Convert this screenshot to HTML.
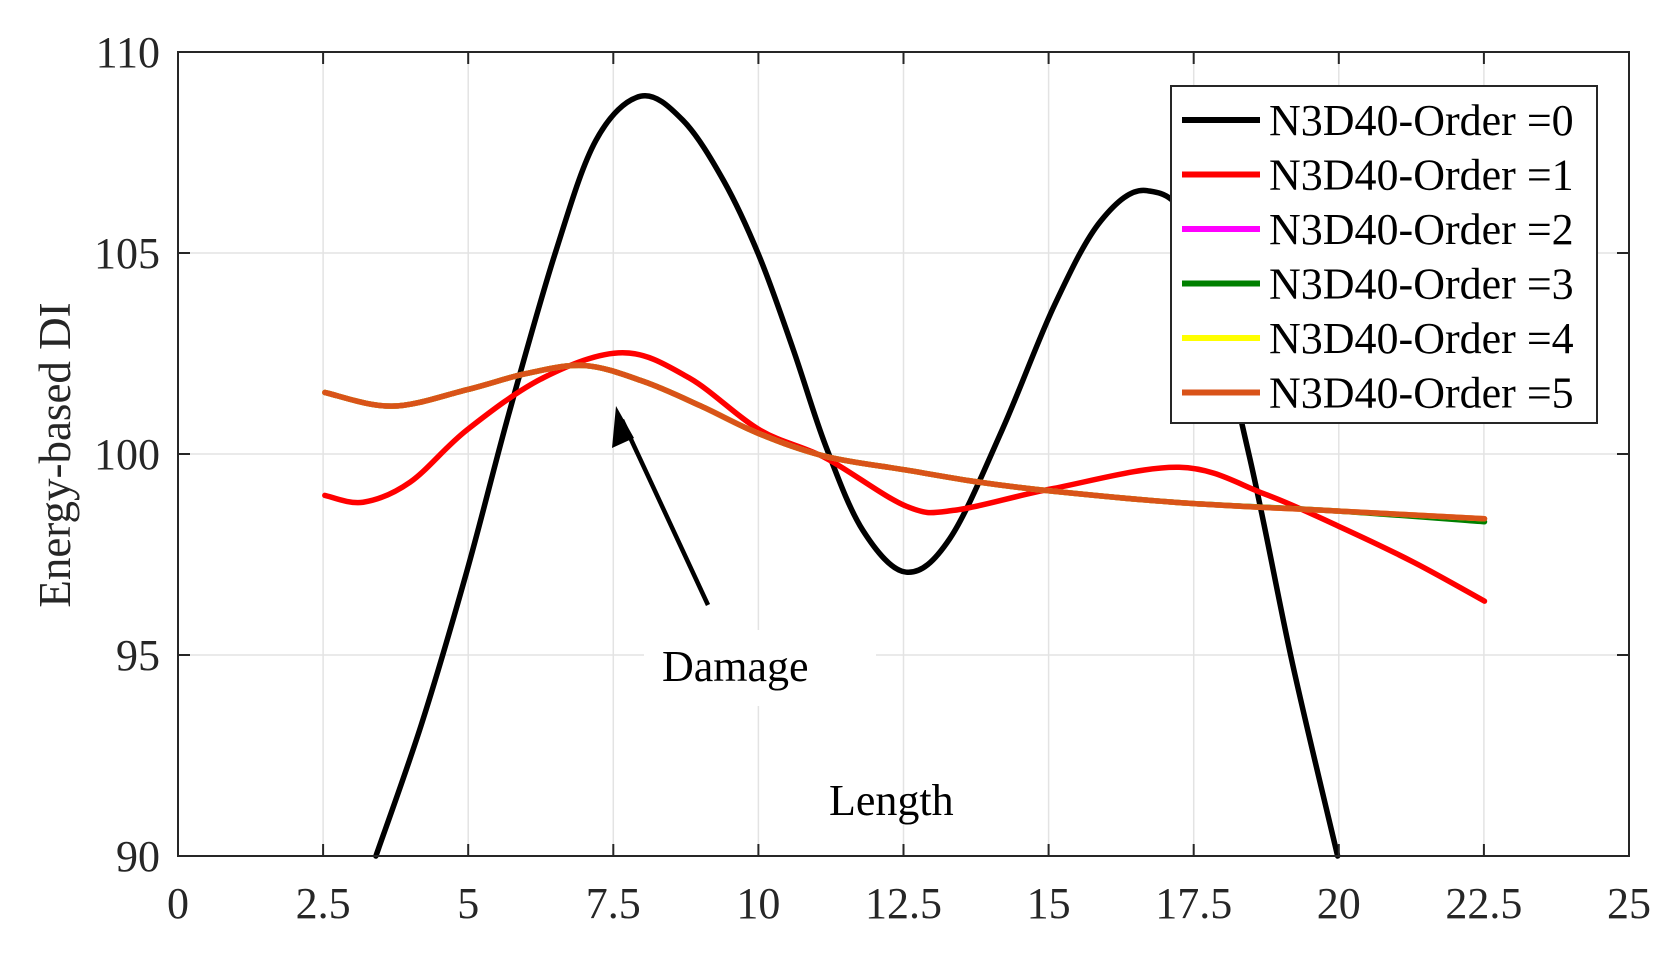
<!DOCTYPE html>
<html><head><meta charset="utf-8"><style>
html,body{margin:0;padding:0;background:#fff;}
svg{display:block;font-family:"Liberation Serif",serif;}
</style></head><body>
<svg id="s" width="1680" height="958" viewBox="0 0 1680 958" xmlns="http://www.w3.org/2000/svg">
<rect width="1680" height="958" fill="#fff"/>
<g id="grid" stroke="#e3e3e3" stroke-width="1.5"></g>
<g id="curves" fill="none" stroke-linejoin="round" stroke-linecap="round"></g>
<rect x="644" y="630" width="232" height="76" fill="#fff"/>
<text x="662" y="681" font-size="44">Damage</text>
<text x="829" y="815" font-size="44">Length</text>
<g stroke="#000" stroke-width="4.5" fill="#000">
<line x1="708" y1="605" x2="622" y2="420"/>
<polygon points="616,406 612,448 634,438" stroke="none"/>
</g>
<rect x="178" y="52" width="1451" height="804" fill="none" stroke="#262626" stroke-width="2"/>
<g id="ticks" stroke="#262626" stroke-width="2"></g>
<g id="labels" font-size="44" fill="#262626"></g>
<text transform="translate(70,455) rotate(-90)" text-anchor="middle" font-size="45" fill="#262626">Energy-based DI</text>
<rect x="1171" y="86" width="426" height="337" fill="#fff" stroke="#262626" stroke-width="2"/>
<g id="legend" font-size="44"></g>
</svg>
<script>
var L=178,R=1629,T=52,B=856;
function X(x){return L+(x/25)*(R-L);} function Y(y){return T+(110-y)/20*(B-T);}
var ns="http://www.w3.org/2000/svg";
function el(p,t,a,txt){var e=document.createElementNS(ns,t);for(var k in a)e.setAttribute(k,a[k]);if(txt!==undefined)e.textContent=txt;document.getElementById(p).appendChild(e);return e;}
for(var i=1;i<10;i++){var x=X(i*2.5);el("grid","line",{x1:x,y1:T,x2:x,y2:B});el("ticks","line",{x1:x,y1:B,x2:x,y2:B-12});el("ticks","line",{x1:x,y1:T,x2:x,y2:T+12});}
for(var j=0;j<=10;j++){var v=j*2.5;el("labels","text",{x:X(v),y:918,"text-anchor":"middle"},String(v));}
[95,100,105].forEach(function(v){var y=Y(v);el("grid","line",{x1:L,y1:y,x2:R,y2:y});el("ticks","line",{x1:L,y1:y,x2:L+12,y2:y});el("ticks","line",{x1:R,y1:y,x2:R-12,y2:y});});
[90,95,100,105,110].forEach(function(v){el("labels","text",{x:160,y:Y(v)+15,"text-anchor":"end"},String(v));});
function path(pts){var p=pts.map(function(a){return [X(a[0]),Y(a[1])];});var d="M"+p[0][0]+","+p[0][1];
for(var i=0;i<p.length-1;i++){var p0=p[i-1]||p[i],p1=p[i],p2=p[i+1],p3=p[i+2]||p2;
d+=" C"+(p1[0]+(p2[0]-p0[0])/6)+","+(p1[1]+(p2[1]-p0[1])/6)+" "+(p2[0]-(p3[0]-p1[0])/6)+","+(p2[1]-(p3[1]-p1[1])/6)+" "+p2[0]+","+p2[1];}return d;}
var blk=[[3.41,90],[4.2,93.3],[4.98,97.1],[5.7,101],[6.5,105.0],[7.2,107.8],[7.97,108.9],[8.7,108.3],[9.4,106.8],[10.02,104.9],[10.6,102.6],[11.16,100.2],[11.8,98.1],[12.55,97.06],[13.3,97.9],[14.2,100.6],[15.1,103.7],[15.9,105.8],[16.7,106.55],[17.5,105.4],[18.45,100],[19.2,94.8],[19.98,90]];
var red=[[2.53,98.97],[3.19,98.8],[4.0,99.3],[4.98,100.6],[6.3,101.9],[7.66,102.52],[8.8,101.9],[10.02,100.6],[11.16,99.9],[12.55,98.7],[13.38,98.6],[15.04,99.13],[17.25,99.67],[18.73,99.0],[20.0,98.2],[21.3,97.3],[22.51,96.34]];
var org=[[2.53,101.53],[3.69,101.19],[4.98,101.6],[6.0,102.0],[7.01,102.2],[8.03,101.8],[9.0,101.2],[10.02,100.5],[11.16,99.94],[12.55,99.6],[13.8,99.3],[15.04,99.08],[17.25,98.79],[20,98.58],[22.51,98.39]];
var grn=org.map(function(a){return [a[0],a[1]-(a[0]>20?(a[0]-20)*0.03:0)];});
el("curves","path",{d:path(blk),stroke:"#000","stroke-width":5.5});
el("curves","path",{d:path(red),stroke:"#ff0000","stroke-width":5.5});
el("curves","path",{d:path(org),stroke:"#ff00ff","stroke-width":5.5});
el("curves","path",{d:path(grn),stroke:"#008000","stroke-width":5.5});
el("curves","path",{d:path(org),stroke:"#ffff00","stroke-width":5.5});
el("curves","path",{d:path(org),stroke:"#d95319","stroke-width":5.5});
var cols=["#000","#ff0000","#ff00ff","#008000","#ffff00","#d95319"];
for(var k=0;k<6;k++){var y=120+k*54.5;el("legend","line",{x1:1182,y1:y,x2:1260,y2:y,stroke:cols[k],"stroke-width":6});
el("legend","text",{x:1269,y:y+15,fill:"#000"},"N3D40-Order ="+k);}
</script>
</body></html>
